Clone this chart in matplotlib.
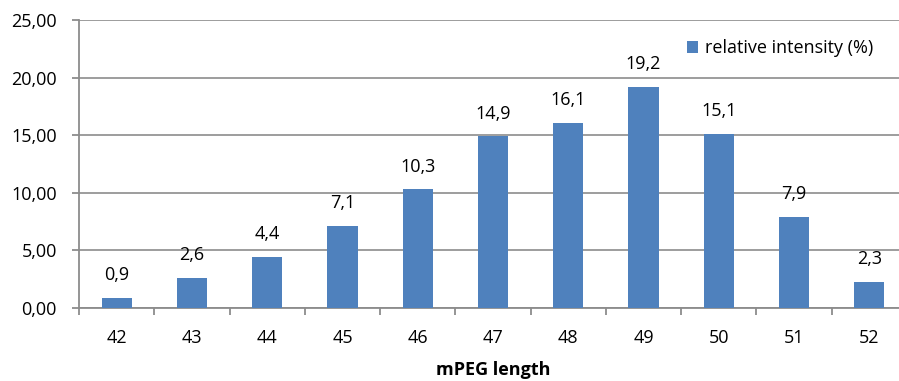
import matplotlib
matplotlib.use("Agg")
import matplotlib.pyplot as plt
import numpy as np

lengths = [42, 43, 44, 45, 46, 47, 48, 49, 50, 51, 52]
intensity = [0.9, 2.6, 4.4, 7.1, 10.3, 14.9, 16.1, 19.2, 15.1, 7.9, 2.3]
series_name = "relative intensity (%)"
x_title = "mPEG length"

plt.rcParams['font.family'] = ['Open Sans', 'DejaVu Sans']
fs = 13

W, H = 899, 381
fig = plt.figure(figsize=(W / 100, H / 100), dpi=100)
# plot area in pixels: left 79, right 907 (cropped), top 20, bottom 308
ax = fig.add_axes([79 / W, 1 - 308 / H, (907 - 79) / W, (308 - 20) / H])

grid_col = "#8c8c8c"
bar_col = "#4f81bd"
pos = np.arange(len(lengths))
bars = ax.bar(pos, intensity, width=0.4, color=bar_col, zorder=3, label=series_name)

for p, v in zip(pos, intensity):
    ax.text(p, v + 1.2, ("%.1f" % v).replace(".", ","), ha="center", va="bottom", fontsize=fs)

ax.set_xlim(-0.5, len(lengths) - 0.5)
ax.set_ylim(0, 25)
yt = np.arange(0, 26, 5)
ax.set_yticks(yt)
ax.set_yticklabels([("%.2f" % t).replace(".", ",") for t in yt], fontsize=fs)
ax.set_xticks(pos)
ax.set_xticklabels([str(l) for l in lengths], fontsize=fs)
ax.set_xticks(np.arange(-0.5, len(lengths)), minor=True)
ax.tick_params(axis="x", which="major", length=0, pad=15)
ax.tick_params(axis="x", which="minor", length=5, color=grid_col, width=1.3)
ax.tick_params(axis="y", length=5, color=grid_col, width=1.3, pad=11)

ax.yaxis.grid(True, color=grid_col, linewidth=1.2, zorder=0)
for s in ["top", "right"]:
    ax.spines[s].set_visible(False)
for s in ["left", "bottom"]:
    ax.spines[s].set_color(grid_col)
    ax.spines[s].set_linewidth(1.3)

ax.set_xlabel(x_title, fontsize=fs, fontweight="bold", labelpad=10)

ax.legend(loc="upper left", bbox_to_anchor=((680 - 79) / (907 - 79), 1 - (32 - 20) / 288),
          frameon=False, fontsize=fs, handlelength=0.6, handleheight=0.6,
          handletextpad=0.4, borderaxespad=0)

fig.savefig("out.png", dpi=100)
